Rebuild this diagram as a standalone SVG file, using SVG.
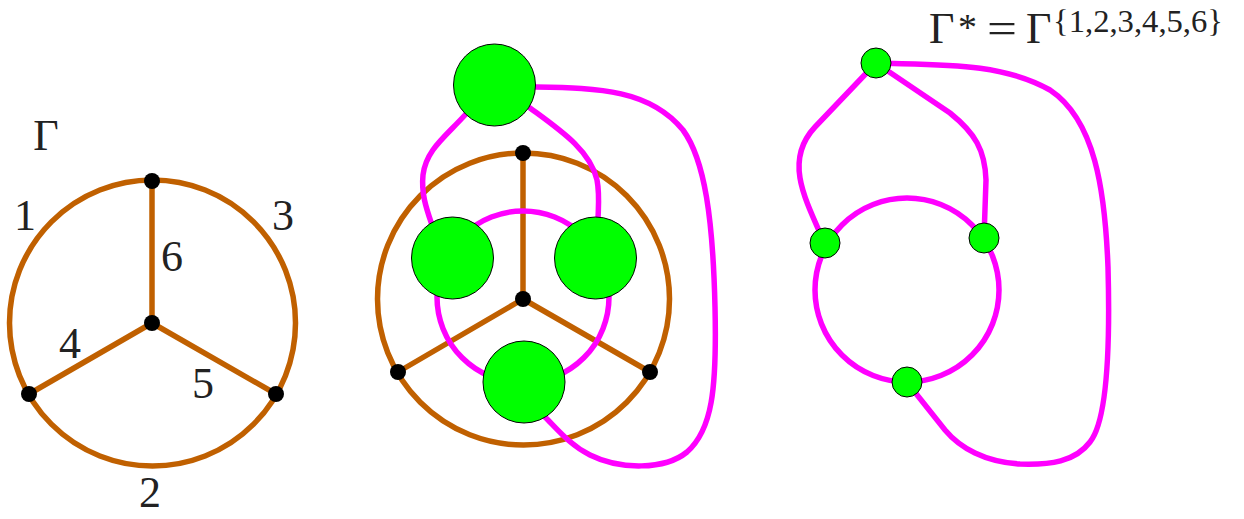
<svg xmlns="http://www.w3.org/2000/svg" width="1244" height="519" viewBox="0 0 1244 519">
<style>
.br{fill:none;stroke:#c06000;stroke-width:5.5;stroke-linecap:round}
.mg{fill:none;stroke:#ff00ff;stroke-width:5.5;stroke-linecap:round}
.v{fill:#000}
.g{fill:#00ff00;stroke:#000;stroke-width:1}
.t{font-family:"Liberation Serif","DejaVu Serif",serif;font-size:44px;fill:#222;text-anchor:middle}
.s{font-family:"Liberation Serif","DejaVu Serif",serif;fill:#222}
</style>
<rect width="1244" height="519" fill="#fff"/>
<g id="connectors">
  <!-- left graph -->
  <circle class="br" cx="152.5" cy="323" r="143"/>
  <line class="br" x1="152" y1="181" x2="152" y2="323"/>
  <line class="br" x1="152" y1="323" x2="29" y2="394"/>
  <line class="br" x1="152" y1="323" x2="276" y2="394"/>
  <!-- middle graph brown -->
  <circle class="br" cx="523.5" cy="299" r="146"/>
  <line class="br" x1="523" y1="153" x2="523" y2="299"/>
  <line class="br" x1="523" y1="299" x2="398" y2="372"/>
  <line class="br" x1="523" y1="299" x2="650" y2="372"/>
  <!-- middle graph magenta -->
  <circle class="mg" cx="523" cy="297" r="86"/>
  <path class="mg" d="M465,115 C445,137 426,150 423,175 C421,195 427,210 433,228"/>
  <path class="mg" d="M530,108 C560,130 590,150 597,180 C600,195 598,210 598,222"/>
  <path class="mg" d="M536,87 C600,88 650,90 683,130 C705,160 713,220 715,307 C717,390 712,430 687,452 C665,470 620,470 590,455 C570,445 558,430 545,417"/>
  <!-- right graph magenta -->
  <circle class="mg" cx="907" cy="290" r="92"/>
  <path class="mg" d="M876,63 L815,127 C801,142 797,160 800,178 C803,196 812,215 824,242"/>
  <path class="mg" d="M876,63 L950,113 C975,133 985,150 986,180 L984,238"/>
  <path class="mg" d="M876,63 C940,65 1000,62 1050,90 C1095,120 1105,190 1108,267 C1110,340 1108,420 1090,442 C1075,462 1050,465 1020,464 C985,462 960,448 945,430 L906,381"/>
</g>
<g id="left-vertices">
  <circle class="v" cx="152" cy="181" r="8"/>
  <circle class="v" cx="152" cy="323" r="8"/>
  <circle class="v" cx="29" cy="394" r="8"/>
  <circle class="v" cx="276" cy="394" r="8"/>
</g>
<g id="left-labels">
  <text class="t" x="46" y="150">Γ</text>
  <text class="t" x="25" y="230">1</text>
  <text class="t" x="283" y="230">3</text>
  <text class="t" x="172" y="271">6</text>
  <text class="t" x="70" y="358">4</text>
  <text class="t" x="203" y="398">5</text>
  <text class="t" x="150" y="507">2</text>
</g>
<g id="middle-vertices">
  <circle class="v" cx="523" cy="153" r="8"/>
  <circle class="v" cx="523" cy="299" r="8"/>
  <circle class="v" cx="398" cy="372" r="8"/>
  <circle class="v" cx="650" cy="372" r="8"/>
</g>
<g id="middle-faces">
  <circle class="g" cx="494.5" cy="85" r="41"/>
  <circle class="g" cx="452.5" cy="258" r="41"/>
  <circle class="g" cx="595.5" cy="258" r="41"/>
  <circle class="g" cx="524" cy="382" r="41"/>
</g>
<g id="right-nodes">
  <circle class="g" cx="876" cy="63" r="15"/>
  <circle class="g" cx="825" cy="243" r="15"/>
  <circle class="g" cx="984" cy="238" r="15"/>
  <circle class="g" cx="907" cy="382" r="15"/>
</g>
<g id="title">
  <text class="s" x="929" y="43" font-size="44">Γ</text>
  <text class="s" x="958" y="40" font-size="38">*</text>
  <text class="s" x="987" y="43" font-size="44" textLength="30" lengthAdjust="spacingAndGlyphs">=</text>
  <text class="s" x="1026" y="43" font-size="44">Γ</text>
  <text class="s" x="1053" y="32" font-size="31" textLength="170" lengthAdjust="spacingAndGlyphs">{1,2,3,4,5,6}</text>
</g>
</svg>
